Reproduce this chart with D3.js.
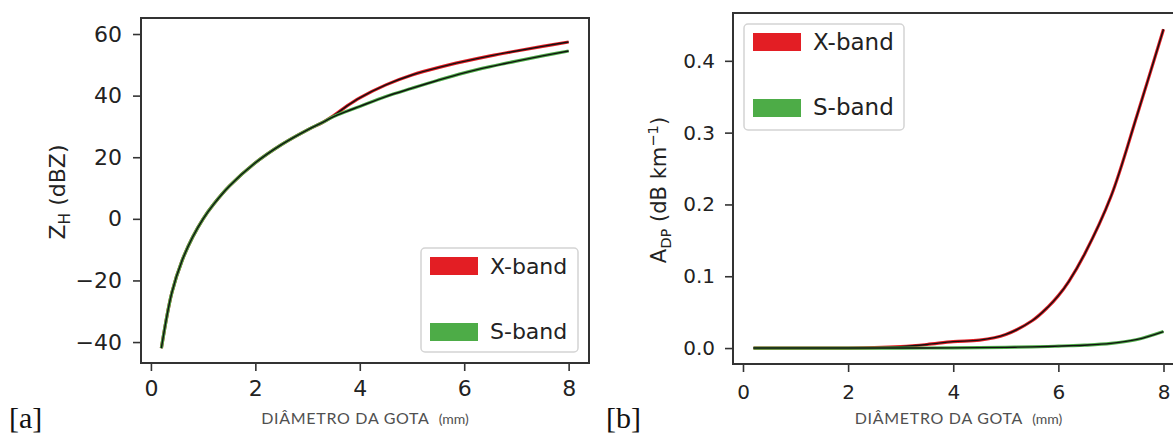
<!DOCTYPE html>
<html>
<head>
<meta charset="utf-8">
<script src="https://cdn.jsdelivr.net/npm/d3@7"></script>
<style>
  body { margin: 0; background: #fff; }
  svg { display: block; }
</style>
</head>
<body>
<div id="chart"></div>
<script>
// canvas
const width = 1173;
const height = 434;

// panel a data: reflectivity vs drop diameter
const diamA = [0.2, 0.4, 0.6, 0.8, 1.0, 1.2, 1.5, 2.0, 2.5, 3.0, 3.3, 3.5, 3.75, 4.0, 4.5, 5.0, 5.5, 6.0, 6.5, 7.0, 7.5, 8.0];
const zhX = [-42, -24, -13.4, -5.9, 0, 4.7, 10.6, 18.2, 24.1, 28.9, 31.4, 33.5, 36.6, 39.3, 43.5, 46.7, 49.1, 51.1, 52.9, 54.5, 56, 57.4];
const zhS = [-42, -24, -13.4, -5.9, 0, 4.7, 10.6, 18.2, 24.1, 28.9, 31.4, 33.2, 34.9, 36.5, 39.7, 42.4, 45.0, 47.4, 49.4, 51.2, 52.9, 54.5];

// panel b data: specific differential attenuation vs drop diameter
const diamB = [0.2, 1, 2, 2.5, 3, 3.5, 4, 4.5, 5, 5.5, 5.8, 6, 6.2, 6.5, 7, 7.5, 8];
const adpX = [0, 0, 0, 0.0005, 0.002, 0.005, 0.009, 0.011, 0.019, 0.038, 0.057, 0.073, 0.093, 0.131, 0.211, 0.325, 0.444];
const adpS = [0, 0, 0, 0, 0, 0.0001, 0.0003, 0.0006, 0.001, 0.0017, 0.0022, 0.0027, 0.0032, 0.004, 0.0065, 0.012, 0.023];

const xTicks = [0, 2, 4, 6, 8];
const zhTicks = [-40, -20, 0, 20, 40, 60];
const adpTicks = [0, 0.1, 0.2, 0.3, 0.4];
const bands = ["X-band", "S-band"];
const bandColors = ["#e31e24", "#4dac47"];

const svg = d3.select("#chart")
    .append("svg")
    .attr("width", width)
    .attr("height", height);

svg.append("rect").attr("width", width).attr("height", height).attr("fill", "#fff");

function drawPanel(p) {
    const x = d3.scaleLinear().domain([-0.19, 8.39]).range(p.xr);
    const y = d3.scaleLinear().domain(p.yd).range(p.yr);
    const g = svg.append("g");

    const line = d3.line().x(d => x(d[0])).y(d => y(d[1])).curve(d3.curveCatmullRom.alpha(0.5));

    // coloured line with a thin black line over it
    p.series.forEach((vals, i) => {
        const pts = p.diam.map((d, k) => [d, vals[k]]);
        g.append("path").datum(pts)
            .attr("d", line)
            .attr("fill", "none")
            .attr("stroke", bandColors[i])
            .attr("stroke-width", 3.2);
        g.append("path").datum(pts)
            .attr("d", line)
            .attr("fill", "none")
            .attr("stroke", "#111")
            .attr("stroke-width", 1.4);
    });

    // axes
    const xAxis = g.append("g")
        .attr("transform", `translate(0,${p.yr[0]})`)
        .call(d3.axisBottom(x).tickValues(xTicks).tickSize(8).tickSizeOuter(0).tickPadding(p.xPad));
    const yAxis = g.append("g")
        .attr("transform", `translate(${p.xr[0]},0)`)
        .call(d3.axisLeft(y).tickValues(p.yTicks).tickFormat(p.fmt).tickSize(8).tickSizeOuter(0).tickPadding(p.yPad));
    [xAxis, yAxis].forEach(a => {
        a.select(".domain").remove();
        a.selectAll(".tick line").attr("stroke", "#333").attr("stroke-width", 1.6);
        a.selectAll(".tick text")
            .attr("fill", "#222")
            .attr("font-family", "DejaVu Sans, sans-serif")
            .attr("font-size", p.tickFont);
    });

    // frame
    g.append("rect")
        .attr("x", p.xr[0]).attr("y", p.yr[1])
        .attr("width", p.xr[1] - p.xr[0]).attr("height", p.yr[0] - p.yr[1])
        .attr("fill", "none").attr("stroke", "#333").attr("stroke-width", 2);

    // legend
    const lg = g.append("g").attr("transform", `translate(${p.legend[0]},${p.legend[1]})`);
    lg.append("rect")
        .attr("width", p.legend[2]).attr("height", p.legend[3])
        .attr("rx", 4)
        .attr("fill", "#fff").attr("fill-opacity", 0.85)
        .attr("stroke", "#d4d4d4").attr("stroke-width", 1.5);
    bands.forEach((b, i) => {
        lg.append("rect")
            .attr("x", 9).attr("y", 9 + i * 66)
            .attr("width", 48).attr("height", 18)
            .attr("fill", bandColors[i]);
        lg.append("text")
            .attr("x", 69).attr("y", 26 + i * 65)
            .attr("font-family", "DejaVu Sans, sans-serif")
            .attr("font-size", p.legendFont)
            .attr("fill", "#222")
            .text(b);
    });

    // y label
    const yl = g.append("text")
        .attr("transform", `translate(${p.yLab[0]},${p.yLab[1]}) rotate(-90)`)
        .attr("text-anchor", "middle")
        .attr("font-family", "DejaVu Sans, sans-serif")
        .attr("font-size", p.yLabFont)
        .attr("fill", "#222");
    p.yLabParts.forEach(t => {
        const s = yl.append("tspan").text(t[0]);
        if (t[1] === "sub") s.attr("font-size", p.yLabFont * 0.7).attr("dy", 5);
        if (t[1] === "back") s.attr("dy", -5);
        if (t[1] === "sup") s.attr("font-size", p.yLabFont * 0.7).attr("dy", -8);
        if (t[1] === "supback") s.attr("dy", 8);
    });

    // x label
    const xl = g.append("text")
        .attr("x", (p.xr[0] + Math.min(p.xr[1], width + 12)) / 2)
        .attr("y", 424)
        .attr("text-anchor", "middle")
        .attr("font-family", "Lato, sans-serif")
        .attr("font-size", 16)
        .attr("letter-spacing", 0.7)
        .attr("fill", "#505050");
    xl.append("tspan").text("DIÂMETRO DA GOTA");
    xl.append("tspan").attr("dx", 9).attr("font-size", 14).attr("letter-spacing", 0).text("(mm)");

    // panel tag
    svg.append("text")
        .attr("x", p.tag[0]).attr("y", 428)
        .attr("font-family", "Liberation Serif, serif")
        .attr("font-size", 30)
        .attr("fill", "#111")
        .text(p.tag[1]);
}

drawPanel({
    diam: diamA, series: [zhX, zhS],
    xr: [141, 589], yd: [-46.8, 65.2], yr: [363, 18],
    yTicks: zhTicks, fmt: d3.format("d"),
    xPad: 9, yPad: 11, tickFont: 22,
    legend: [421, 248, 157, 104], legendFont: 22,
    yLab: [65, 192], yLabFont: 22,
    yLabParts: [["Z"], ["H", "sub"], [" (dBZ)", "back"]],
    tag: [9, "[a]"]
});

drawPanel({
    diam: diamB, series: [adpX, adpS],
    xr: [733, 1184], yd: [-0.0222, 0.4666], yr: [364, 13],
    yTicks: adpTicks, fmt: d3.format(".1f"),
    xPad: 13, yPad: 10, tickFont: 20,
    legend: [744, 24, 160, 106], legendFont: 23,
    yLab: [666, 190], yLabFont: 21,
    yLabParts: [["A"], ["DP", "sub"], [" (dB km", "back"], ["−1", "sup"], [")", "supback"]],
    tag: [606, "[b]"]
});
</script>
</body>
</html>
